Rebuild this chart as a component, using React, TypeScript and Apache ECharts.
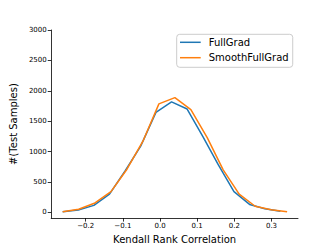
import React, { useEffect, useRef } from "react";
import * as echarts from "echarts";

const seriesNames = ["FullGrad", "SmoothFullGrad"];
const fullGradX = [-0.262, -0.22, -0.178, -0.136, -0.094, -0.052, -0.011, 0.031, 0.073, 0.115, 0.157, 0.199, 0.241, 0.282, 0.324];
const fullGradY = [10, 40, 115, 300, 680, 1090, 1645, 1818, 1700, 1250, 780, 340, 130, 60, 20];
const smoothX = [-0.262, -0.219, -0.175, -0.132, -0.089, -0.046, -0.003, 0.04, 0.083, 0.127, 0.17, 0.213, 0.256, 0.299, 0.342];
const smoothY = [10, 50, 155, 340, 710, 1170, 1785, 1887, 1690, 1230, 700, 300, 100, 43, 10];
const xTicks = [-0.2, -0.1, 0.0, 0.1, 0.2, 0.3];
const yTicks = [0, 500, 1000, 1500, 2000, 2500, 3000];

const FONT = "DejaVu Sans";

export default function App() {
  const ref = useRef<HTMLDivElement>(null);
  useEffect(() => {
    if (!ref.current) return;
    const chart = echarts.init(ref.current, null, { renderer: "svg" });
    const axisLine = { show: true, onZero: false, lineStyle: { color: "#000", width: 0.8 } };
    const tickBase = { show: true, length: 3.5, lineStyle: { color: "#000", width: 0.8 } };
    chart.setOption({
      animation: false,
      backgroundColor: "#fff",
      grid: { left: 41, right: 34, top: 30, bottom: 27, containLabel: false },
      legend: {
        orient: "vertical",
        left: 176.7,
        top: 34.3,
        padding: [2, 4, 3.6, 3.3],
        itemGap: 3.4,
        itemWidth: 20.7,
        itemHeight: 1.5,
        icon: "rect",
        backgroundColor: "#fff",
        borderColor: "#cccccc",
        borderWidth: 1,
        borderRadius: 3,
        textStyle: { fontFamily: FONT, fontSize: 10, color: "#000", padding: [0, 0, 0, 3], lineHeight: 12 },
        data: seriesNames,
      },
      xAxis: {
        type: "value",
        min: -0.2928,
        max: 0.3713,
        name: "Kendall Rank Correlation",
        nameLocation: "middle",
        nameGap: 13,
        nameTextStyle: { fontFamily: FONT, fontSize: 10, color: "#000" },
        axisLine,
        splitLine: { show: false },
        axisTick: { ...tickBase, customValues: xTicks },
        axisLabel: {
          customValues: xTicks,
          fontFamily: FONT,
          fontSize: 7,
          color: "#000",
          margin: 4,
          formatter: (v: number) => (v < -1e-9 ? "\u2212" : "") + Math.abs(v).toFixed(1),
        },
      },
      yAxis: {
        type: "value",
        min: -94.5,
        max: 3000,
        name: "#(Test Samples)",
        nameLocation: "middle",
        nameGap: 25,
        nameTextStyle: { fontFamily: FONT, fontSize: 10, color: "#000" },
        axisLine,
        splitLine: { show: false },
        axisTick: { ...tickBase, customValues: yTicks },
        axisLabel: {
          customValues: yTicks,
          fontFamily: FONT,
          fontSize: 7,
          color: "#000",
          margin: 4.5,
          formatter: (v: number) => String(Math.round(v)),
        },
      },
      series: [
        {
          name: seriesNames[0],
          type: "line",
          data: fullGradX.map((x, i) => [x, fullGradY[i]]),
          showSymbol: false,
          lineStyle: { color: "#1f77b4", width: 1.5 },
          itemStyle: { color: "#1f77b4" },
        },
        {
          name: seriesNames[1],
          type: "line",
          data: smoothX.map((x, i) => [x, smoothY[i]]),
          showSymbol: false,
          lineStyle: { color: "#ff7f0e", width: 1.5 },
          itemStyle: { color: "#ff7f0e" },
        },
      ],
    });
    return () => chart.dispose();
  }, []);
  return <div ref={ref} style={{ position: "absolute", left: 0, top: 0, width: 332, height: 249 }} />;
}
